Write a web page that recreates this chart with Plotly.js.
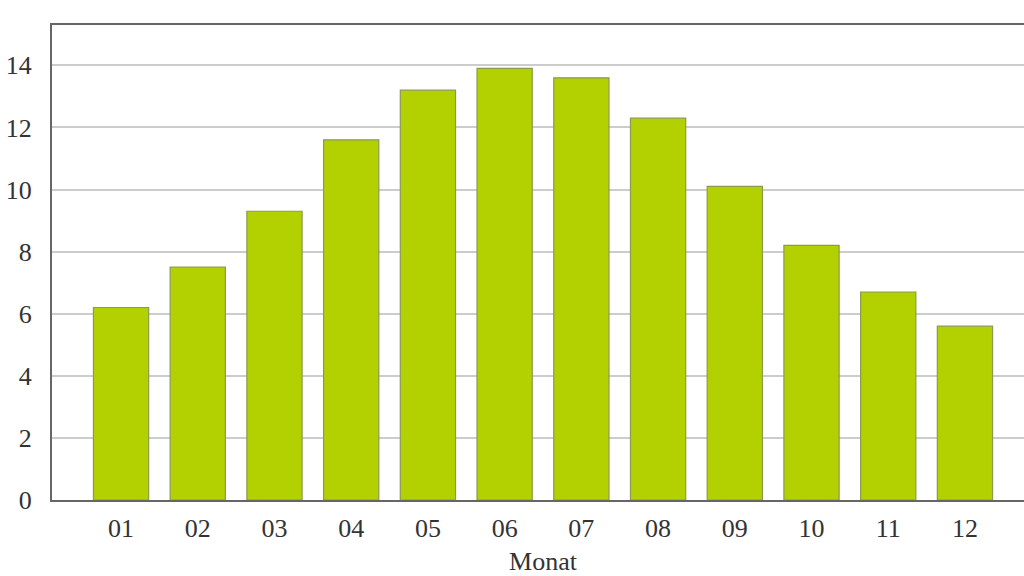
<!DOCTYPE html>
<html><head><meta charset="utf-8">
<script src="https://cdn.plot.ly/plotly-3.0.1.min.js"></script>
<style>html,body{margin:0;padding:0;overflow:hidden;width:1024px;height:576px;background:#fff}</style>
</head><body>
<div id="chart"></div>
<script>
const months = ["01","02","03","04","05","06","07","08","09","10","11","12"];
const values = [6.2, 7.5, 9.3, 11.6, 13.2, 13.9, 13.6, 12.3, 10.1, 8.2, 6.7, 5.6];
const yTicks = [0, 2, 4, 6, 8, 10, 12, 14];

const font = {family: "Liberation Serif, serif", size: 26, color: "#333"};
Plotly.newPlot("chart", [{
  type: "bar",
  x: months,
  y: values,
  width: 0.72,
  marker: {color: "#b3d000", line: {color: "#8c9a50", width: 1.2}},
  hoverinfo: "x+y"
}], {
  width: 1040, height: 576,
  margin: {l: 52, r: 6, t: 25, b: 76},
  paper_bgcolor: "#fff", plot_bgcolor: "#fff",
  font: font,
  showlegend: false,
  bargap: 0.28,
  xaxis: {
    type: "category",
    range: [-0.9, 11.9],
    showline: true, mirror: true, linecolor: "#666", linewidth: 2,
    showgrid: false, ticks: "", ticklabelstandoff: 4,
    tickfont: font,
    title: {text: "Monat", font: font, standoff: 13}
  },
  yaxis: {
    range: [0, 15.3],
    tickvals: yTicks,
    showline: true, mirror: true, linecolor: "#666", linewidth: 2,
    gridcolor: "#cccccc", gridwidth: 2,
    zeroline: false, ticks: "", ticklabelstandoff: 13,
    tickfont: font
  }
}, {displayModeBar: false, staticPlot: true});
</script>
</body></html>
